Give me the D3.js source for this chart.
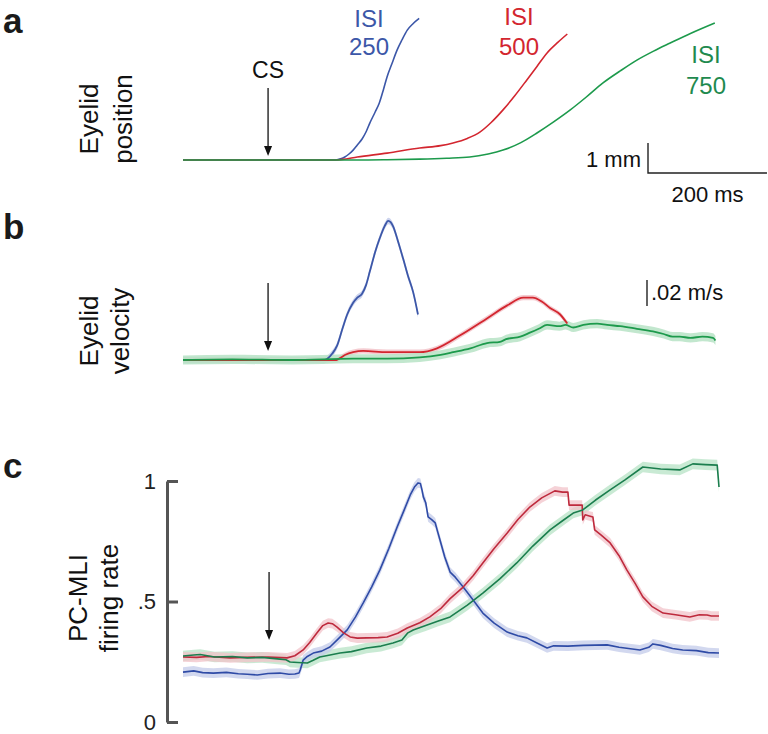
<!DOCTYPE html>
<html><head><meta charset="utf-8">
<script src="https://cdn.jsdelivr.net/npm/d3@7"></script>
<style>body{margin:0;background:#fff} text{font-family:"Liberation Sans",Arial,Helvetica,sans-serif}</style>
</head><body><svg id="chart" width="768" height="734"></svg>
<script>
// ---- data (time in ms relative to CS onset) ----
const isiNames = ["250", "500", "750"];
const isiColorsA = ["#3c57a8", "#d3262f", "#1d9a4c"];
const isiColorsC = ["#2f4ba6", "#be2a3d", "#1b7e4e"];
const bandColors = ["#c3cbea", "#f2c3c9", "#b7e3c6"];

// a: eyelid position (mm)
const position250 = [[-143,0],[110,0],[116,0.01],[122,0.04],[129,0.1],[136,0.2],[143,0.33],[150,0.5],[158,0.7],[165,0.95],[171,1.23],[180,1.6],[187,1.9],[194,2.35],[200,2.77],[208,3.2],[217,3.67],[225,4.0],[234,4.33],[244,4.55],[254,4.72]];
const position500 = [[-143,0],[115,0],[125,0.02],[150,0.1],[200,0.23],[255,0.4],[290,0.48],[311,0.57],[335,0.72],[356,0.93],[375,1.25],[395,1.67],[415,2.15],[435,2.67],[452,3.12],[469,3.57],[487,3.92],[503,4.2]];
const position750 = [[-143,0],[150,0],[200,0.01],[255,0.03],[300,0.06],[339,0.1],[370,0.2],[395,0.33],[425,0.58],[452,0.9],[480,1.27],[508,1.67],[535,2.1],[563,2.57],[592,2.97],[620,3.33],[648,3.63],[676,3.9],[710,4.22],[751,4.57]];

// b: eyelid velocity (m/s)
const velocity250 = [[-143,0],[95,0],[101,0.0015],[108,0.005],[116,0.011],[125,0.024],[133,0.035],[143,0.044],[150,0.048],[158,0.051],[165,0.058],[171,0.068],[180,0.083],[188,0.094],[196,0.103],[202,0.107],[206,0.106],[210,0.103],[218,0.092],[227,0.078],[235,0.065],[244,0.052],[252,0.035]];
const velocity500 = [[-143,0],[115,0],[121,0.0015],[130,0.004],[143,0.006],[160,0.007],[200,0.006],[255,0.006],[284,0.009],[323,0.019],[368,0.032],[402,0.042],[429,0.048],[445,0.048],[460,0.045],[474,0.040],[491,0.035],[503,0.028]];
const velocity750 = [[-143,0],[-60,0.0005],[40,0],[143,0.001],[200,0.001],[255,0.002],[290,0.004],[311,0.006],[340,0.009],[368,0.013],[390,0.014],[400,0.016],[424,0.018],[440,0.021],[455,0.024],[469,0.027],[490,0.026],[500,0.027],[513,0.025],[530,0.027],[553,0.028],[570,0.027],[592,0.026],[620,0.024],[647,0.022],[665,0.020],[680,0.018],[692,0.018],[710,0.017],[730,0.018],[748,0.017],[752,0.015]];
const velocitySem = [0.0025, 0.002, 0.0035];

// c: PC-MLI firing rate (normalized)
const rate250 = [[-143,0.207],[-125,0.212],[-110,0.205],[-92,0.203],[-70,0.206],[-50,0.200],[-35,0.198],[-18,0.195],[0,0.201],[20,0.203],[35,0.198],[45,0.199],[52,0.203],[54,0.216],[57,0.240],[59,0.257],[66,0.272],[76,0.286],[90,0.294],[104,0.311],[118,0.345],[133,0.382],[147,0.436],[160,0.494],[174,0.560],[188,0.631],[203,0.720],[217,0.809],[228,0.875],[239,0.942],[246,0.975],[252,0.992],[256,0.990],[259,0.960],[261,0.934],[265,0.910],[269,0.851],[275,0.840],[281,0.826],[285,0.790],[289,0.755],[293,0.720],[297,0.685],[303,0.643],[306,0.622],[315,0.600],[328,0.560],[345,0.505],[361,0.452],[380,0.410],[402,0.373],[420,0.358],[435,0.349],[452,0.328],[469,0.307],[480,0.316],[504,0.315],[530,0.318],[570,0.320],[590,0.310],[625,0.299],[640,0.310],[647,0.324],[660,0.318],[680,0.305],[697,0.299],[720,0.296],[740,0.288],[758,0.286]];
const rate500 = [[-143,0.270],[-120,0.268],[-100,0.272],[-64,0.266],[-40,0.268],[0,0.270],[32,0.266],[45,0.275],[59,0.299],[70,0.330],[82,0.369],[92,0.400],[101,0.411],[108,0.408],[116,0.394],[127,0.370],[138,0.353],[150,0.348],[166,0.349],[185,0.350],[200,0.353],[218,0.368],[234,0.390],[255,0.412],[272,0.436],[290,0.470],[306,0.512],[328,0.560],[345,0.608],[361,0.660],[380,0.720],[402,0.784],[420,0.840],[440,0.892],[460,0.930],[482,0.959],[495,0.954],[504,0.954],[506,0.900],[528,0.900],[529,0.838],[533,0.860],[540,0.855],[546,0.851],[549,0.797],[560,0.775],[575,0.743],[590,0.690],[603,0.631],[617,0.575],[630,0.519],[645,0.480],[664,0.452],[685,0.445],[709,0.436],[725,0.445],[738,0.444],[745,0.440],[758,0.440]];
const rate750 = [[-143,0.274],[-125,0.278],[-114,0.280],[-90,0.270],[-60,0.272],[-35,0.266],[-10,0.268],[20,0.261],[30,0.258],[37,0.249],[50,0.247],[66,0.245],[75,0.255],[87,0.270],[100,0.276],[121,0.286],[140,0.292],[166,0.307],[190,0.315],[210,0.328],[225,0.340],[235,0.370],[244,0.382],[265,0.400],[285,0.418],[306,0.436],[335,0.485],[361,0.535],[390,0.595],[418,0.660],[445,0.730],[474,0.797],[495,0.835],[513,0.867],[529,0.880],[550,0.920],[575,0.963],[600,1.005],[630,1.058],[660,1.050],[692,1.046],[714,1.071],[735,1.068],[755,1.066],[758,0.975]];
const rateSem = [0.02, 0.02, 0.022];
const rateTicks = [0, 0.5, 1];
const rateTickLabels = ["0", ".5", "1"];

// ---- drawing ----
const svg = d3.select("#chart");
const x = d3.scaleLinear().domain([-143, 758]).range([183, 719]);
const yA = d3.scaleLinear().domain([0, 5]).range([160, 10]);
const yB = d3.scaleLinear().domain([0, 0.1]).range([360, 230]);
const yC = d3.scaleLinear().domain([0, 1]).range([722, 481]);

function arrow(g, cx, y0, y1) {
  g.append("line").attr("x1", cx).attr("x2", cx).attr("y1", y0).attr("y2", y1 - 8)
    .attr("stroke", "#111").attr("stroke-width", 1.3);
  g.append("path").attr("d", `M${cx-4},${y1-10}L${cx+4},${y1-10}L${cx},${y1}Z`).attr("fill", "#111");
}
function panelLetter(t, yy) {
  svg.append("text").attr("x", 3).attr("y", yy).attr("font-size", 35).attr("font-weight", "bold").attr("fill", "#1a1a1a").text(t);
}
function rotLabel(lines, xs, cy) {
  lines.forEach((s, i) => svg.append("text")
    .attr("transform", `translate(${xs[i]},${cy}) rotate(-90)`)
    .attr("text-anchor", "middle").attr("font-size", 26).attr("fill", "#111").text(s));
}

// Panel a
panelLetter("a", 33);
rotLabel(["Eyelid", "position"], [98, 132], 119);
const gA = svg.append("g");
const lineA = d3.line().x(d => x(d[0])).y(d => yA(d[1])).curve(d3.curveMonotoneX);
[position250, position500, position750].forEach((s, i) =>
  gA.append("path").attr("d", lineA(s)).attr("fill", "none").attr("stroke", isiColorsA[i]).attr("stroke-width", 1.6));
arrow(gA, x(0), 88, 156);
svg.append("text").attr("x", x(0)).attr("y", 78).attr("text-anchor", "middle").attr("font-size", 23).attr("fill", "#111").text("CS");
const isiPos = [[369, 27, 55], [519, 25, 55], [706, 63, 94]];
isiNames.forEach((n, i) => {
  const t = svg.append("text").attr("text-anchor", "middle").attr("font-size", 24).attr("fill", i === 2 ? "#1f8a4f" : isiColorsA[i]);
  t.append("tspan").attr("x", isiPos[i][0]).attr("y", isiPos[i][1]).text("ISI");
  t.append("tspan").attr("x", isiPos[i][0]).attr("y", isiPos[i][2]).text(n);
});
// scale bar a
const sbx = 648, sby = 173;
const hLen = x(200) - x(0);
const vLen = yA(0) - yA(1);
svg.append("path").attr("d", `M${sbx},${sby - vLen}L${sbx},${sby}L${sbx + hLen},${sby}`)
  .attr("fill", "none").attr("stroke", "#222").attr("stroke-width", 1.4);
svg.append("text").attr("x", sbx - 7).attr("y", 167).attr("text-anchor", "end").attr("font-size", 22).attr("fill", "#111").text("1 mm");
svg.append("text").attr("x", sbx + hLen / 2).attr("y", 202).attr("text-anchor", "middle").attr("font-size", 22).attr("fill", "#111").text("200 ms");

// Panel b
panelLetter("b", 239);
rotLabel(["Eyelid", "velocity"], [98, 129], 331);
const gB = svg.append("g");
const areaB = (sem) => d3.area().x(d => x(d[0])).y0(d => yB(d[1] - sem)).y1(d => yB(d[1] + sem)).curve(d3.curveMonotoneX);
const lineB = d3.line().x(d => x(d[0])).y(d => yB(d[1])).curve(d3.curveMonotoneX);
const velSeries = [velocity250, velocity500, velocity750];
velSeries.forEach((s, i) => gB.append("path").attr("d", areaB(velocitySem[i])(s)).attr("fill", bandColors[i]).attr("opacity", 0.85));
velSeries.forEach((s, i) => gB.append("path").attr("d", lineB(s)).attr("fill", "none").attr("stroke", isiColorsA[i]).attr("stroke-width", 1.8));
arrow(gB, x(0), 283, 351);
const vb = yB(0) - yB(0.02);
svg.append("line").attr("x1", 647).attr("x2", 647).attr("y1", 280).attr("y2", 280 + vb).attr("stroke", "#222").attr("stroke-width", 1.4);
svg.append("text").attr("x", 651).attr("y", 300).attr("font-size", 22).attr("fill", "#111").text(".02 m/s");

// Panel c
panelLetter("c", 478);
rotLabel(["PC-MLI", "firing rate"], [87, 118], 598);
const gC = svg.append("g");
const axisC = d3.axisLeft(yC).tickValues(rateTicks).tickFormat((d, i) => rateTickLabels[i])
  .tickSizeInner(-11).tickSizeOuter(0).tickPadding(11);
const ax = svg.append("g").attr("transform", "translate(167,0)").call(axisC);
ax.select(".domain").attr("stroke", "#555").attr("stroke-width", 3);
ax.selectAll(".tick line").attr("stroke", "#555").attr("stroke-width", 3);
ax.selectAll(".tick text").attr("font-size", 22).attr("fill", "#222").attr("font-family", "Liberation Sans, Arial, sans-serif");
const rateSeries = [rate250, rate500, rate750];
const areaC = (sem) => d3.area().x(d => x(d[0])).y0(d => yC(d[1] - sem)).y1(d => yC(d[1] + sem));
const lineC = d3.line().x(d => x(d[0])).y(d => yC(d[1]));
[2, 1, 0].forEach(i => gC.append("path").attr("d", areaC(rateSem[i])(rateSeries[i])).attr("fill", bandColors[i]).attr("opacity", 0.75));
[0, 1, 2].forEach(i => gC.append("path").attr("d", lineC(rateSeries[i])).attr("fill", "none").attr("stroke", isiColorsC[i]).attr("stroke-width", 1.6).attr("stroke-linejoin", "round"));
arrow(gC, x(0) + 1, 572, 640);
</script></body></html>
